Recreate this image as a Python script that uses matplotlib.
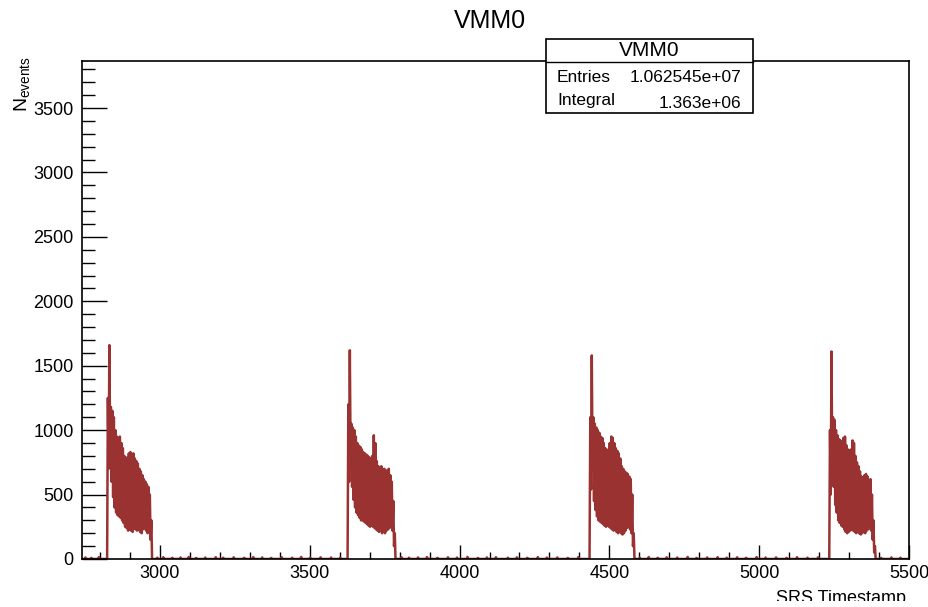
import numpy as np
import matplotlib
matplotlib.use("Agg")
import matplotlib.pyplot as plt
from matplotlib.transforms import Bbox, TransformedBbox

plt.rcParams['font.family'] = ['Liberation Sans', 'DejaVu Sans']
plt.rcParams['mathtext.fontset'] = 'custom'
plt.rcParams['mathtext.rm'] = 'Liberation Sans'
plt.rcParams['mathtext.it'] = 'Liberation Sans'

# histogram binning (SRS timestamp)
x_min, x_max, bin_w = 2740, 5500, 2.5

# burst start positions and (high, low) bin contents, 5 units per pair
burst_starts = [2827, 3628, 4435, 5236]
hi1 = [1250, 1660, 1180, 1150, 1100, 1000, 950, 940, 950, 900, 860, 800, 780, 790, 820,
       830, 810, 820, 780, 760, 740, 700, 680, 650, 620, 600, 580, 560, 500, 300]
lo1 = [700, 900, 600, 480, 400, 360, 340, 330, 320, 300, 280, 250, 240, 220, 230,
       220, 210, 240, 230, 220, 230, 210, 200, 230, 240, 220, 200, 250, 150, 0]
hi2 = [1200, 1620, 1050, 1020, 1000, 950, 900, 880, 870, 850, 830, 820, 810, 800, 790, 780,
       800, 960, 900, 760, 720, 700, 720, 690, 700, 680, 690, 700, 650, 600, 450, 200]
lo2 = [600, 800, 560, 460, 400, 360, 340, 320, 300, 300, 290, 280, 270, 260, 250, 260,
       250, 240, 230, 220, 210, 220, 200, 210, 200, 220, 230, 240, 250, 220, 100, 0]
hi3 = [1100, 1580, 1100, 1050, 1020, 1000, 980, 950, 940, 900, 860, 840, 850, 900, 950,
       940, 900, 860, 840, 820, 780, 720, 700, 680, 670, 660, 640, 620, 500, 200]
lo3 = [540, 700, 450, 380, 330, 300, 290, 280, 270, 260, 250, 260, 250, 240, 230,
       220, 230, 210, 200, 210, 200, 190, 200, 220, 240, 250, 230, 200, 100, 0]
hi4 = [1000, 1610, 1100, 1080, 1000, 960, 930, 920, 900, 940, 950, 880, 850, 840, 850, 920,
       900, 800, 750, 720, 680, 640, 630, 650, 660, 640, 600, 620, 500, 300, 100]
lo4 = [500, 700, 560, 420, 360, 300, 280, 260, 250, 230, 210, 200, 210, 220, 230, 220,
       210, 200, 210, 200, 190, 200, 210, 200, 220, 230, 240, 220, 150, 50, 0]

# small counts between the bursts
noise_x = [2750, 2772, 2795, 2990, 3012, 3040, 3068, 3095, 3120, 3150, 3185, 3210, 3245,
           3280, 3310, 3340, 3372, 3405, 3440, 3470, 3500, 3535, 3570, 3600, 3805, 3830,
           3862, 3890, 3925, 3960, 3990, 4025, 4060, 4090, 4120, 4160, 4190, 4225, 4260,
           4290, 4325, 4360, 4395, 4600, 4630, 4660, 4690, 4725, 4760, 4790, 4825, 4860,
           4890, 4925, 4955, 4990, 5020, 5055, 5090, 5125, 5160, 5195, 5405, 5440, 5470]
noise_y = [12, 8, 15, 10, 14, 9, 12, 16, 8, 11, 14, 10, 13, 9, 15, 12, 8, 14, 10, 16,
           9, 13, 11, 8, 14, 10, 12, 15, 9, 13, 11, 16, 8, 12, 14, 10, 13, 9, 15, 11,
           12, 8, 14, 10, 15, 9, 13, 11, 16, 8, 12, 14, 10, 13, 9, 15, 11, 12, 8, 14,
           10, 13, 9, 12, 10]

edges = np.arange(x_min, x_max + bin_w, bin_w)
centers = 0.5 * (edges[:-1] + edges[1:])
counts = np.zeros(len(edges) - 1)
for x, y in zip(noise_x, noise_y):
    counts[int((x - x_min) / bin_w)] = y
for start, hi, lo in zip(burst_starts, [hi1, hi2, hi3, hi4], [lo1, lo2, lo3, lo4]):
    i0 = int((start - x_min) / bin_w)
    seq = np.ravel(np.column_stack([hi, lo]))
    counts[i0:i0 + len(seq)] = seq

fig = plt.figure(figsize=(9.29, 6.07), dpi=100)
ax = fig.add_axes([0.0883, 0.0791, 0.8902, 0.8204])

ax.plot(centers, counts, color='#9a3232', lw=1.8, zorder=2)

ax.set_xlim(x_min, x_max)
ax.set_ylim(0, 3865)
ax.set_xticks(np.arange(3000, 5501, 500))
ax.set_xticks(np.arange(2800, 5501, 100), minor=True)
ax.set_yticks(np.arange(0, 3501, 500))
ax.set_yticks(np.arange(0, 3866, 100), minor=True)
ax.tick_params(axis='both', which='both', direction='in', top=False, right=False,
               labelsize=13, width=1)
ax.tick_params(axis='y', which='major', length=18, pad=6)
ax.tick_params(axis='y', which='minor', length=9)
ax.tick_params(axis='x', which='major', length=10, pad=4)
ax.tick_params(axis='x', which='minor', length=5)
for s in ax.spines.values():
    s.set_linewidth(1.2)
    s.set_zorder(3)

fig.text(0.527, 0.965, 'VMM0', ha='center', va='center', fontsize=18)
fig.text(0.024, 0.862, r'N$_{\mathregular{events}}$', rotation=90, ha='center',
         va='center', fontsize=14)
xlab = fig.text(0.975, 1 - 590 / 607, 'SRS Timestamp', ha='right', va='top', fontsize=13)
xlab.set_clip_box(TransformedBbox(Bbox([[0, 6 / 607], [1, 1]]), fig.transFigure))
xlab.set_clip_on(True)

# stats box
bx0, bx1, by0, by1 = 546 / 929, 753 / 929, 1 - 113 / 607, 1 - 39 / 607
ysep = 1 - 62 / 607
fig.patches.append(plt.Rectangle((bx0, by0), bx1 - bx0, by1 - by0, transform=fig.transFigure,
                                 facecolor='white', edgecolor='black', lw=1.2, zorder=5))
fig.lines.append(plt.Line2D([bx0, bx1], [ysep, ysep], transform=fig.transFigure,
                            color='black', lw=1, zorder=6))
fig.text((bx0 + bx1) / 2, 1 - 51 / 607, 'VMM0', ha='center', va='center', fontsize=15, zorder=7)
fig.text(557 / 929, 1 - 77 / 607, 'Entries', ha='left', va='center', fontsize=12.5, zorder=7)
fig.text(741 / 929, 1 - 77 / 607, '1.062545e+07', ha='right', va='center', fontsize=12.5, zorder=7)
fig.text(557 / 929, 1 - 101 / 607, 'Integral', ha='left', va='center', fontsize=12.5, zorder=7)
fig.text(741 / 929, 1 - 103 / 607, '1.363e+06', ha='right', va='center', fontsize=12.5, zorder=7)

fig.savefig('out.png', dpi=100)
